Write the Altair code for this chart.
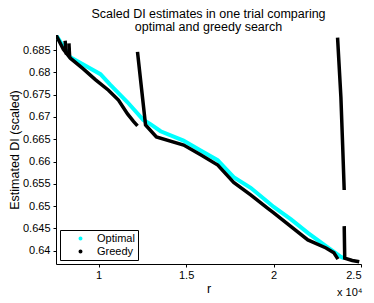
import altair as alt
import pandas as pd

# ---- data ----
optimal_r = [7560, 8380, 9120, 10100, 10670, 11650, 12560, 12960, 13540, 14850, 15830,
             16800, 17720, 18690, 19670, 20010, 21000, 21960, 22900, 23850, 24020]
optimal_di = [0.6884, 0.6834, 0.6818, 0.6796, 0.6772, 0.6733, 0.6693, 0.6684, 0.6668, 0.6647, 0.6625,
              0.6603, 0.6565, 0.6541, 0.6509, 0.6498, 0.6470, 0.6440, 0.6413, 0.6386, 0.6383]

greedy1_r = [7560, 7980, 8380, 9120, 9810, 10560, 11130, 11650, 11990, 12220]
greedy1_di = [0.6884, 0.6852, 0.6832, 0.6808, 0.6784, 0.6760, 0.6738, 0.6707, 0.6690, 0.6680]

greedy_spike1_r = [8080, 8160]
greedy_spike1_di = [0.6871, 0.6840]
greedy_spike2_r = [8300, 8340]
greedy_spike2_di = [0.6865, 0.6835]

greedy2_r = [12220, 12450, 12680, 13300, 14860, 15830, 16810, 17720, 18690, 19670,
             20010, 21000, 21960, 23000, 23450, 23680]
greedy2_di = [0.6846, 0.6764, 0.6682, 0.6655, 0.6637, 0.6615, 0.6592, 0.6553, 0.6525, 0.6495,
              0.6485, 0.6454, 0.6424, 0.6406, 0.6395, 0.6381]

greedy3a_r = [23660, 23850, 23950, 24040]
greedy3a_di = [0.6878, 0.6745, 0.6637, 0.6536]
greedy3b_r = [24040, 24070, 24500, 24900]
greedy3b_di = [0.6455, 0.6383, 0.6378, 0.6375]

series_names = ["Optimal", "Greedy"]
series_colors = ["#00FFFF", "#000000"]

x_ticks = [10000, 15000, 20000, 25000]
y_ticks = [0.64, 0.645, 0.65, 0.655, 0.66, 0.665, 0.67, 0.675, 0.68, 0.685]

# ---- tables ----
opt_df = pd.DataFrame({"r": optimal_r, "di": optimal_di, "series": "Optimal", "seg": "opt"})
opt_df["order"] = range(len(opt_df))
greedy_parts = [
    ("g1", greedy1_r, greedy1_di),
    ("s1", greedy_spike1_r, greedy_spike1_di),
    ("s2", greedy_spike2_r, greedy_spike2_di),
    ("g2", greedy2_r, greedy2_di),
    ("g3a", greedy3a_r, greedy3a_di),
    ("g3b", greedy3b_r, greedy3b_di),
]
greedy_df = pd.concat(
    [pd.DataFrame({"r": r, "di": d, "series": "Greedy", "seg": name, "order": range(len(r))})
     for name, r, d in greedy_parts],
    ignore_index=True,
)

FONT = "Liberation Sans"

color = alt.Color(
    "series:N",
    scale=alt.Scale(domain=series_names, range=series_colors),
    legend=alt.Legend(
        title=None,
        orient="bottom-left",
        offset=4,
        symbolType="circle",
        symbolSize=4,
        symbolStrokeWidth=2,
        symbolOffset=12,
        labelOffset=11,
        padding=3,
        rowPadding=1,
        labelFont=FONT,
        labelFontSize=11,
        labelColor="black",
        strokeColor="black",
        fillColor="white",
        cornerRadius=0,
    ),
)

x_enc = alt.X(
    "r:Q",
    scale=alt.Scale(domain=[7560, 25000], nice=False, zero=False),
    axis=alt.Axis(
        values=x_ticks,
        labelExpr="format(datum.value / 10000, '~g')",
        title="r",
        grid=False,
        tickSize=3,
        labelPadding=2,
        titlePadding=2,
    ),
)
y_enc = alt.Y(
    "di:Q",
    scale=alt.Scale(domain=[0.637, 0.6884], nice=False, zero=False),
    axis=alt.Axis(
        values=y_ticks,
        labelExpr="format(datum.value, '.3~f')",
        title="Estimated DI (scaled)",
        grid=False,
        tickSize=3,
        labelPadding=3,
        titlePadding=1,
    ),
)

opt_layer = alt.Chart(opt_df).mark_line(strokeWidth=4, clip=True).encode(
    x=x_enc, y=y_enc, color=color, order="order:Q"
)
greedy_layer = alt.Chart(greedy_df).mark_line(strokeWidth=3.5, clip=True).encode(
    x=x_enc, y=y_enc, color=color, detail="seg:N", order="order:Q"
)
exp_layer = alt.Chart(pd.DataFrame({"t": ["x 10⁴"]})).mark_text(
    align="left", baseline="alphabetic", font=FONT, fontSize=11, color="black"
).encode(x=alt.value(281), y=alt.value(261), text="t:N")

chart = (
    alt.layer(opt_layer, greedy_layer, exp_layer)
    .properties(
        width=305,
        height=229,
        padding={"left": 48, "top": 27, "right": 5, "bottom": 35},
        autosize=alt.AutoSizeParams(type="none"),
        title=alt.Title(
            ["Scaled DI estimates in one trial comparing", "optimal and greedy search"],
            font=FONT,
            fontSize=12.5,
            fontWeight="normal",
            color="black",
            anchor="middle",
            offset=2,
            lineHeight=13,
        ),
    )
    .configure_view(stroke=None)
    .configure_axis(
        domainColor="black",
        tickColor="black",
        labelColor="black",
        titleColor="black",
        labelFont=FONT,
        titleFont=FONT,
        labelFontSize=11,
        titleFontSize=12.5,
        titleFontWeight="normal",
    )
)

chart.save("out.html", embed_options={"renderer": "svg", "actions": False})
